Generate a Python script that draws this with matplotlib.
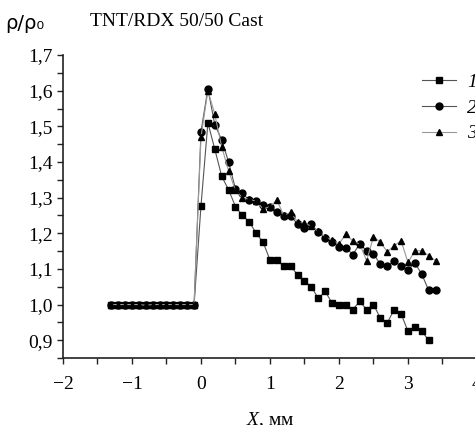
import matplotlib
matplotlib.use("Agg")
import matplotlib.pyplot as plt
from matplotlib.ticker import MultipleLocator, FuncFormatter

plt.rcParams["font.family"] = ["Liberation Serif", "DejaVu Serif"]
plt.rcParams["mathtext.fontset"] = "custom"
plt.rcParams["mathtext.rm"] = "Liberation Serif"
plt.rcParams["mathtext.it"] = "Liberation Serif:italic"

# data (x in mm, step 0.1)
x_flat = [-1.3, -1.2, -1.1, -1.0, -0.9, -0.8, -0.7, -0.6, -0.5, -0.4, -0.3, -0.2, -0.1]
y_flat = [1.0, 1.0, 1.0, 1.0, 1.0, 0.998, 1.0, 1.0, 1.0, 1.0, 1.0, 1.0, 1.0]

x_1 = [0.0, 0.1, 0.2, 0.3, 0.4, 0.5, 0.6, 0.7, 0.8, 0.9, 1.0, 1.1, 1.2, 1.3, 1.4, 1.5, 1.6,
       1.7, 1.8, 1.9, 2.0, 2.1, 2.2, 2.3, 2.4, 2.5, 2.6, 2.7, 2.8, 2.9, 3.0, 3.1, 3.2, 3.3]
y_1 = [1.277, 1.51, 1.436, 1.36, 1.322, 1.275, 1.25, 1.232, 1.20, 1.175, 1.125, 1.125, 1.107,
       1.107, 1.084, 1.065, 1.05, 1.017, 1.037, 1.004, 1.0, 1.0, 0.986, 1.009, 0.986, 1.0,
       0.962, 0.949, 0.986, 0.974, 0.925, 0.936, 0.925, 0.90]

x_2 = [0.0, 0.1, 0.2, 0.3, 0.4, 0.5, 0.6, 0.7, 0.8, 0.9, 1.0, 1.1, 1.2, 1.3, 1.4, 1.5, 1.6,
       1.7, 1.8, 1.9, 2.0, 2.1, 2.2, 2.3, 2.4, 2.5, 2.6, 2.7, 2.8, 2.9, 3.0, 3.1, 3.2, 3.3, 3.4]
y_2 = [1.485, 1.605, 1.505, 1.462, 1.40, 1.324, 1.312, 1.293, 1.291, 1.279, 1.275, 1.261,
       1.249, 1.248, 1.226, 1.215, 1.225, 1.203, 1.188, 1.176, 1.162, 1.16, 1.14, 1.17,
       1.151, 1.142, 1.113, 1.107, 1.123, 1.107, 1.097, 1.117, 1.085, 1.04, 1.04]

x_3 = x_2
y_3 = [1.47, 1.60, 1.534, 1.443, 1.375, 1.32, 1.30, 1.295, 1.29, 1.268, 1.275, 1.293, 1.25,
       1.259, 1.232, 1.228, 1.22, 1.205, 1.19, 1.18, 1.17, 1.198, 1.178, 1.17, 1.123, 1.19,
       1.175, 1.148, 1.165, 1.179, 1.118, 1.151, 1.151, 1.137, 1.123]

series = [
    ("1", x_1, y_1, "s", "#555555"),
    ("2", x_2, y_2, "o", "#555555"),
    ("3", x_3, y_3, "^", "#999999"),
]

fig = plt.figure(figsize=(4.75, 4.25), dpi=100)
ax = fig.add_axes([0.1326, 0.1576, 0.8716, 0.7129])

for label, xs, ys, marker, line_color in series:
    ax.plot(x_flat + xs, y_flat + ys, color=line_color, lw=0.8,
            marker=marker, ms=5, mfc="black", mec="black", label=label)

ax.set_xlim(-2, 4)
ax.set_ylim(0.85, 1.7)
ax.xaxis.set_major_locator(MultipleLocator(1))
ax.xaxis.set_minor_locator(MultipleLocator(0.5))
ax.yaxis.set_major_locator(MultipleLocator(0.1))
ax.yaxis.set_minor_locator(MultipleLocator(0.05))
ax.yaxis.set_major_formatter(FuncFormatter(lambda v, p: f"{v:.1f}".replace(".", ",")))
ax.xaxis.set_major_formatter(FuncFormatter(lambda v, p: f"{v:.0f}".replace("-", "\u2212")))
ax.tick_params(which="both", direction="out", length=4, width=1, labelsize=14, color="#222222")
ax.tick_params(axis="x", pad=9)
for side in ["top", "right"]:
    ax.spines[side].set_visible(False)
for side in ["left", "bottom"]:
    ax.spines[side].set_linewidth(1.2)
    ax.spines[side].set_color("#222222")

ax.set_xlabel(r"$X$, мм", fontsize=14, labelpad=12)

fig.text(0.012, 0.945, "ρ/ρ₀", fontsize=14, family="DejaVu Sans", va="center")
fig.text(0.19, 0.95, "TNT/RDX 50/50 Cast", fontsize=14, va="center")

leg = ax.legend(loc="upper left", bbox_to_anchor=(0.868, 0.94), frameon=False,
                handlelength=1.75, handletextpad=0.55, labelspacing=0.42,
                borderpad=0, borderaxespad=0, prop={"style": "italic", "size": 14})

fig.savefig("out.png", dpi=100)
